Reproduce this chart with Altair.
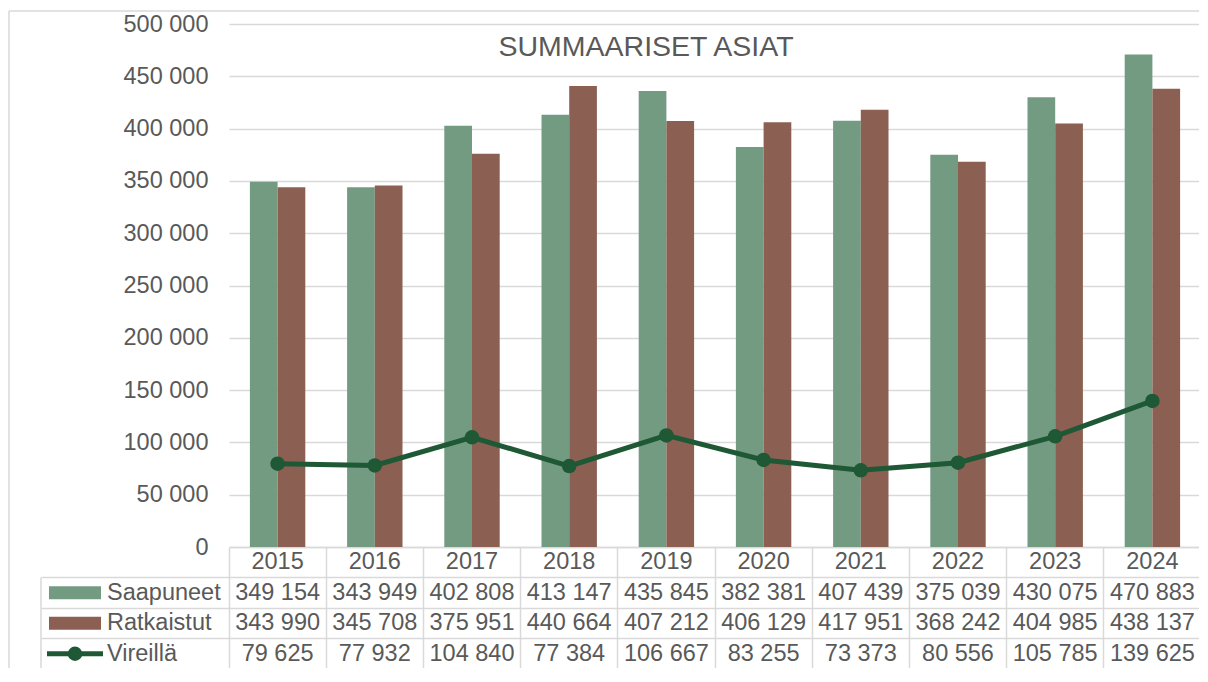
import altair as alt
import pandas as pd

# ---------------- data ----------------
years = ["2015", "2016", "2017", "2018", "2019", "2020", "2021", "2022", "2023", "2024"]
saapuneet = [349154, 343949, 402808, 413147, 435845, 382381, 407439, 375039, 430075, 470883]
ratkaistut = [343990, 345708, 375951, 440664, 407212, 406129, 417951, 368242, 404985, 438137]
vireilla = [79625, 77932, 104840, 77384, 106667, 83255, 73373, 80556, 105785, 139625]
series_names = ["Saapuneet", "Ratkaistut", "Vireillä"]
title_text = "SUMMAARISET ASIAT"
y_ticks = [0, 50000, 100000, 150000, 200000, 250000, 300000, 350000, 400000, 450000, 500000]
header_row = "header"

# ---------------- style ----------------
GREEN = "#739B82"
BROWN = "#8B5F52"
DARK = "#1E5834"
GRID = "#D9D9D9"
TEXT = "#595959"
FONT = "Liberation Sans"
FS = 23.5
W = 972
H = 523
ROW_H = 30.5
TH = ROW_H * 4


def fmt(v):
    return f"{v:,}".replace(",", " ")


bars_df = pd.DataFrame(
    [{"year": y, "series": "Saapuneet", "value": v} for y, v in zip(years, saapuneet)]
    + [{"year": y, "series": "Ratkaistut", "value": v} for y, v in zip(years, ratkaistut)]
)
line_df = pd.DataFrame({"year": years, "value": vireilla, "series": "Vireillä"})

color_scale = alt.Scale(domain=series_names, range=[GREEN, BROWN, DARK])

x_top = alt.X(
    "year:N",
    scale=alt.Scale(domain=years, paddingInner=0.43, paddingOuter=0.215),
    axis=alt.Axis(title=None, labels=False, ticks=False, domain=True,
                  domainColor=GRID, domainWidth=1.5, grid=False),
)
y_top = alt.Y(
    "value:Q",
    scale=alt.Scale(domain=[0, 500000], nice=False, zero=True),
    axis=alt.Axis(
        title=None, values=y_ticks,
        labelExpr="datum.value == 0 ? '0' : floor(datum.value / 1000) + ' 000'",
        labelFontSize=FS, labelColor=TEXT, labelFont=FONT, labelPadding=21,
        ticks=False, tickSize=0, domain=False,
        grid=True, gridColor=GRID, gridWidth=1.5,
    ),
)

bars = alt.Chart(bars_df).mark_bar().encode(
    x=x_top,
    xOffset=alt.XOffset("series:N", scale=alt.Scale(domain=["Saapuneet", "Ratkaistut"])),
    y=y_top,
    color=alt.Color("series:N", scale=color_scale, legend=None),
)
line = alt.Chart(line_df).mark_line(color=DARK, strokeWidth=5).encode(
    x=alt.X("year:N"), y=alt.Y("value:Q")
)
pts = alt.Chart(line_df).mark_point(filled=True, color=DARK, size=210, opacity=1).encode(
    x=alt.X("year:N"), y=alt.Y("value:Q")
)

title_df = pd.DataFrame({"t": [title_text]})
title = alt.Chart(title_df).mark_text(
    fontSize=28.5, font=FONT, color=TEXT, align="center", baseline="alphabetic"
).encode(text="t:N", x=alt.value(417), y=alt.value(32))

dummy = pd.DataFrame({"d": [0]})
border_v = alt.Chart(dummy).mark_rule(color=GRID, strokeWidth=1.5).encode(
    x=alt.value(-220), y=alt.value(-13), y2=alt.value(H)
)
border_h = alt.Chart(dummy).mark_rule(color=GRID, strokeWidth=1.5).encode(
    x=alt.value(-220), x2=alt.value(W), y=alt.value(-13)
)

top = alt.layer(bars, line, pts, title, border_v, border_h).properties(width=W, height=H)

# ---------------- data table ----------------
rows = [header_row] + series_names
cells = []
for y in years:
    cells.append({"row": header_row, "year": y, "label": y})
for name, vals in zip(series_names, [saapuneet, ratkaistut, vireilla]):
    for y, v in zip(years, vals):
        cells.append({"row": name, "year": y, "label": fmt(v)})
cells_df = pd.DataFrame(cells)
names_df = pd.DataFrame({"row": series_names})

x_tab = alt.X(
    "year:N",
    scale=alt.Scale(type="band", domain=years, paddingInner=0, paddingOuter=0),
    axis=alt.Axis(title=None, labels=False, ticks=False, domain=False,
                  grid=True, gridColor=GRID, gridWidth=1.5, bandPosition=0),
)
y_tab = alt.Y(
    "row:N",
    scale=alt.Scale(type="band", domain=rows, paddingInner=0, paddingOuter=0),
    axis=alt.Axis(title=None, values=series_names, labels=False, ticks=True,
                  tickSize=188, tickColor=GRID, tickWidth=1.5, bandPosition=0,
                  domain=False, grid=True, gridColor=GRID, gridWidth=1.5),
)

cell_text = alt.Chart(cells_df).mark_text(
    fontSize=FS, font=FONT, color=TEXT, align="center", baseline="middle"
).encode(x=x_tab, y=y_tab, text="label:N")

name_text = alt.Chart(names_df).mark_text(
    fontSize=FS, font=FONT, color=TEXT, align="left", baseline="middle"
).encode(x=alt.value(-122), y=alt.Y("row:N"), text="row:N")

sym_rect = alt.Chart(names_df).transform_filter(
    alt.FieldOneOfPredicate(field="row", oneOf=["Saapuneet", "Ratkaistut"])
).mark_rule(strokeWidth=13, strokeCap="butt").encode(
    x=alt.value(-180), x2=alt.value(-128), y=alt.Y("row:N"),
    color=alt.Color("row:N", scale=color_scale, legend=None),
)
sym_line = alt.Chart(names_df).transform_filter(
    alt.FieldEqualPredicate(field="row", equal="Vireillä")
).mark_rule(strokeWidth=5, color=DARK).encode(
    x=alt.value(-182), x2=alt.value(-126), y=alt.Y("row:N")
)
sym_pt = alt.Chart(names_df).transform_filter(
    alt.FieldEqualPredicate(field="row", equal="Vireillä")
).mark_point(filled=True, color=DARK, size=210, opacity=1).encode(
    x=alt.value(-154), y=alt.Y("row:N")
)
left_border = alt.Chart(names_df).transform_filter(
    alt.FieldEqualPredicate(field="row", equal="Saapuneet")
).mark_rule(color=GRID, strokeWidth=1.5).encode(
    x=alt.value(-188), y=alt.Y("row:N", bandPosition=0), y2=alt.value(TH)
)
outer_border = alt.Chart(dummy).mark_rule(color=GRID, strokeWidth=1.5).encode(
    x=alt.value(-220), y=alt.value(0), y2=alt.value(TH)
)

table = alt.layer(
    cell_text, name_text, sym_rect, sym_line, sym_pt, left_border, outer_border
).properties(width=W, height=TH)

chart = alt.vconcat(top, table, spacing=0, bounds="flush").resolve_scale(
    x="independent", y="independent"
).properties(
    padding={"left": 0, "top": 2, "right": -3, "bottom": -2}
).configure_view(strokeWidth=0)

chart.save("out.html", embed_options={"renderer": "svg", "actions": False})
